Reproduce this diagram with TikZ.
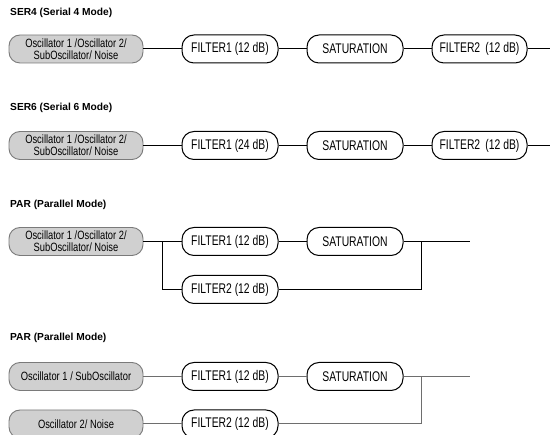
\documentclass[tikz,border=0pt]{standalone}
\usepackage{fontspec}
\setmainfont{Liberation Sans}
\newfontfamily\narrowfont[FakeStretch=0.78]{Liberation Sans}
\newfontfamily\narrowerfont[FakeStretch=0.74]{Liberation Sans}

\definecolor{oscfill}{HTML}{D0D0D0}
\definecolor{oscedge}{HTML}{7A7A7A}
\definecolor{wiregray}{HTML}{6E6E6E}

\tikzset{
    modetitle/.style={anchor=west, inner sep=0pt, font=\bfseries\fontsize{10.2}{12}\selectfont},
    oscbox/.style={draw=oscedge, fill=oscfill, line width=0.9pt, rounded corners=11pt,
        minimum width=134pt, minimum height=28pt, inner sep=0pt, align=center,
        font=\narrowfont\fontsize{12}{12}\selectfont},
    fltbox/.style={draw=black, fill=white, line width=1pt, rounded corners=12pt,
        minimum width=96pt, minimum height=28pt, inner sep=0pt,
        font=\narrowerfont\fontsize{14}{14}\selectfont},
    wire/.style={line width=1pt}
}

\begin{document}
\begin{tikzpicture}[x=1pt, y=-1pt]
            \useasboundingbox (0, 0) rectangle (550, 435);

            % SER4
            \node[modetitle] (t1) at (10, 13) {SER4 (Serial 4 Mode)};
            \node[oscbox] (osc1) at (76, 49) {Oscillator 1 /Oscillator 2/\\SubOscillator/ Noise};
            \node[fltbox] (fa1) at (230, 49) {FILTER1 (12 dB)};
            \node[fltbox] (sat1) at (355, 49) {SATURATION};
            \node[fltbox, minimum width=95pt] (fb1) at (479.5, 49) {FILTER2\, (12 dB)};
            \coordinate (e1) at (550, 49);
            \draw[wire] (osc1) -- (fa1);
            \draw[wire] (fa1) -- (sat1);
            \draw[wire] (sat1) -- (fb1);
            \draw[wire] (fb1) -- (e1);

            % SER6
            \node[modetitle] (t2) at (10, 108) {SER6 (Serial 6 Mode)};
            \node[oscbox] (osc2) at (76, 145.5) {Oscillator 1 /Oscillator 2/\\SubOscillator/ Noise};
            \node[fltbox] (fa2) at (230, 145.5) {FILTER1 (24 dB)};
            \node[fltbox] (sat2) at (355, 145.5) {SATURATION};
            \node[fltbox, minimum width=95pt] (fb2) at (479.5, 145.5) {FILTER2\, (12 dB)};
            \coordinate (e2) at (550, 145.5);
            \draw[wire] (osc2) -- (fa2);
            \draw[wire] (fa2) -- (sat2);
            \draw[wire] (sat2) -- (fb2);
            \draw[wire] (fb2) -- (e2);

            % PAR, one source
            \node[modetitle] (t3) at (10, 205) {PAR (Parallel Mode)};
            \node[oscbox] (osc3) at (76, 241.5) {Oscillator 1 /Oscillator 2/\\SubOscillator/ Noise};
            \node[fltbox] (fa3) at (230, 241.5) {FILTER1 (12 dB)};
            \node[fltbox] (sat3) at (355, 241.5) {SATURATION};
            \node[fltbox] (fb3) at (230, 289.5) {FILTER2 (12 dB)};
            \coordinate (b3) at (162.5, 241.5);
            \coordinate (j3) at (421.5, 241.5);
            \coordinate (e3) at (470, 241.5);
            \draw[wire] (osc3) -- (fa3);
            \draw[wire] (b3) |- (fb3);
            \draw[wire] (fa3) -- (sat3);
            \draw[wire] (sat3) -- (e3);
            \draw[wire] (fb3) -| (j3);

            % PAR, two sources
            \node[modetitle] (t4) at (10, 338) {PAR (Parallel Mode)};
            \node[oscbox] (osc4) at (76, 376.5) {Oscillator 1 / SubOscillator};
            \node[oscbox] (osc5) at (76, 424) {Oscillator 2/ Noise};
            \node[fltbox] (fa4) at (230, 376.5) {FILTER1 (12 dB)};
            \node[fltbox] (sat4) at (355, 376.5) {SATURATION};
            \node[fltbox] (fb4) at (230, 424) {FILTER2 (12 dB)};
            \coordinate (j4) at (421.5, 376.5);
            \coordinate (e4) at (470, 376.5);
            \draw[wire, wiregray] (osc4) -- (fa4);
            \draw[wire, wiregray] (fa4) -- (sat4);
            \draw[wire, wiregray] (sat4) -- (e4);
            \draw[wire, wiregray] (osc5) -- (fb4);
            \draw[wire, wiregray] (fb4) -| (j4);
        \end{tikzpicture}
\end{document}
